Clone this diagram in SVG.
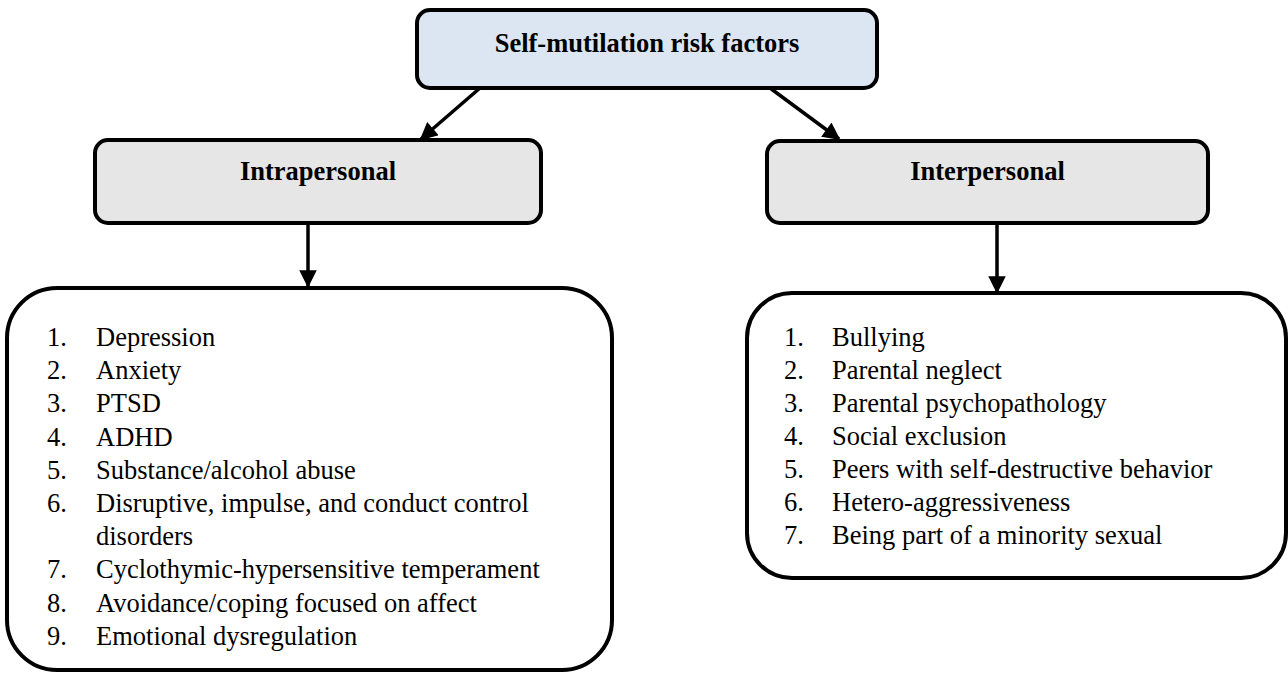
<svg xmlns="http://www.w3.org/2000/svg" width="1288" height="673" viewBox="0 0 1288 673">
<style>
.box{stroke:#000;stroke-width:4}
.hdr{font-family:"Liberation Serif","Times New Roman",serif;font-size:26.5px;font-weight:bold;fill:#000;text-anchor:middle}
.item{font-family:"Liberation Serif","Times New Roman",serif;font-size:26.5px;fill:#000}
.conn{stroke:#000;stroke-width:3.5;fill:none}
</style>
<defs>
<marker id="ah" viewBox="0 0 10 10" markerWidth="5.2" markerHeight="5" refX="9" refY="5" orient="auto" markerUnits="strokeWidth">
<path d="M0,0 L10,5 L0,10 Z" fill="#000"/>
</marker>
</defs>
<rect width="1288" height="673" fill="#fff"/>
<g id="connectors">
<line class="conn" x1="480" y1="88" x2="421" y2="139" marker-end="url(#ah)"/>
<line class="conn" x1="770" y1="88" x2="839" y2="139" marker-end="url(#ah)"/>
<line class="conn" x1="308" y1="223" x2="308" y2="286" marker-end="url(#ah)"/>
<line class="conn" x1="997" y1="223" x2="997" y2="292" marker-end="url(#ah)"/>
</g>
<g id="root">
<rect class="box" x="417" y="10" width="460" height="78" rx="13" fill="#dce6f2"/>
<text class="hdr" x="647" y="52">Self-mutilation risk factors</text>
</g>
<g id="intra">
<rect class="box" x="95" y="140" width="446" height="83" rx="13" fill="#e6e6e6"/>
<text class="hdr" x="318" y="180">Intrapersonal</text>
</g>
<g id="inter">
<rect class="box" x="767" y="141" width="441" height="82" rx="13" fill="#e6e6e6"/>
<text class="hdr" x="987.5" y="180">Interpersonal</text>
</g>
<g id="intra-list">
<rect class="box" x="7" y="288" width="605" height="382" rx="50" fill="#fff"/>
<g class="item">
<text x="47" y="346">1.</text><text x="96" y="346">Depression</text>
<text x="47" y="379.2">2.</text><text x="96" y="379.2">Anxiety</text>
<text x="47" y="412.4">3.</text><text x="96" y="412.4">PTSD</text>
<text x="47" y="445.6">4.</text><text x="96" y="445.6">ADHD</text>
<text x="47" y="478.8">5.</text><text x="96" y="478.8">Substance/alcohol abuse</text>
<text x="47" y="512">6.</text><text x="96" y="512">Disruptive, impulse, and conduct control</text>
<text x="96" y="545.2">disorders</text>
<text x="47" y="578.4">7.</text><text x="96" y="578.4">Cyclothymic-hypersensitive temperament</text>
<text x="47" y="611.6">8.</text><text x="96" y="611.6">Avoidance/coping focused on affect</text>
<text x="47" y="644.8">9.</text><text x="96" y="644.8">Emotional dysregulation</text>
</g>
</g>
<g id="inter-list">
<rect class="box" x="747" y="293" width="539" height="285" rx="45" fill="#fff"/>
<g class="item">
<text x="784" y="345.5">1.</text><text x="832" y="345.5">Bullying</text>
<text x="784" y="378.5">2.</text><text x="832" y="378.5">Parental neglect</text>
<text x="784" y="411.5">3.</text><text x="832" y="411.5">Parental psychopathology</text>
<text x="784" y="444.5">4.</text><text x="832" y="444.5">Social exclusion</text>
<text x="784" y="477.5">5.</text><text x="832" y="477.5">Peers with self-destructive behavior</text>
<text x="784" y="510.5">6.</text><text x="832" y="510.5">Hetero-aggressiveness</text>
<text x="784" y="543.5">7.</text><text x="832" y="543.5">Being part of a minority sexual</text>
</g>
</g>
</svg>
